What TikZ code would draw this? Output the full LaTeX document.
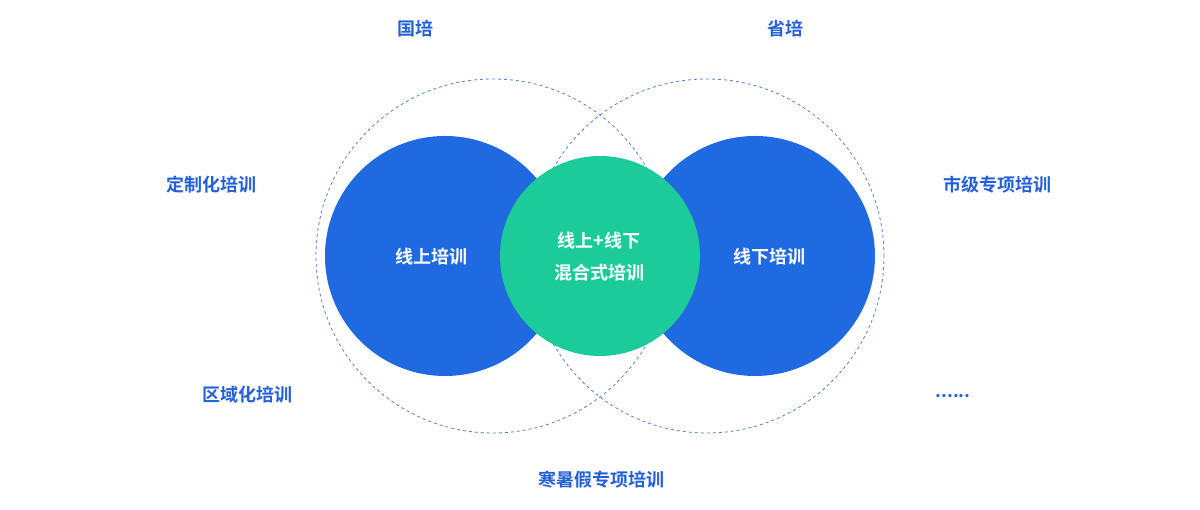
\documentclass[tikz,border=0pt]{standalone}
\usepackage{fontspec}
\setmainfont{Noto Sans CJK SC}[BoldFont={* Bold}]
\definecolor{discblue}{HTML}{1F6AE1}
\definecolor{discgreen}{HTML}{1BCC9A}
\definecolor{labelblue}{HTML}{2360D8}
\definecolor{ringblue}{HTML}{4F7FE0}

\tikzset{
  ring/.style={draw=ringblue,line width=0.8pt,dash pattern=on 3pt off 3pt},
  bluedisc/.style={circle,fill=discblue,minimum size=240pt,inner sep=0pt},
  greendisc/.style={circle,fill=discgreen,minimum size=200pt,inner sep=0pt},
  outer/.style={text=labelblue,font=\fontsize{18}{21}\selectfont\bfseries},
  inner/.style={text=white,font=\fontsize{18}{32}\selectfont\bfseries,align=center}
}

\begin{document}
\begin{tikzpicture}[x=1pt,y=1pt]
  \useasboundingbox (0,0) rectangle (1200,510);

  % dashed rings
  \draw[ring] (493,254) circle [radius=177];
  \draw[ring] (707,254) circle [radius=177];

  % discs
  \node[bluedisc] (online) at (445,254) {};
  \node[bluedisc] (offline) at (755,254) {};
  \node[greendisc] (mixed) at (600,254) {};

  \node[inner] (onlinetext) at (431,253) {线上培训};
  \node[inner] (offlinetext) at (769,253) {线下培训};
  \node[inner] (mixedtext) at (599,253) {线上+线下\\混合式培训};

  % surrounding labels
  \node[outer] (national) at (415,481) {国培};
  \node[outer] (provincial) at (785,481) {省培};
  \node[outer] (custom) at (211,325) {定制化培训};
  \node[outer] (city) at (997,325) {市级专项培训};
  \node[outer] (regional) at (247,115) {区域化培训};
  \node[outer] (more) at (953,114) {......};
  \node[outer] (holiday) at (601,30) {寒暑假专项培训};
\end{tikzpicture}
\end{document}
